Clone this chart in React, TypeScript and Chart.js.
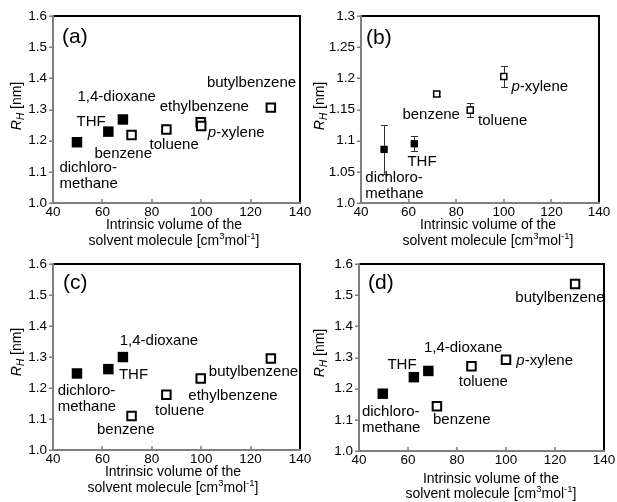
import React, { useEffect, useRef } from 'react';
import { Chart, registerables } from 'chart.js';

Chart.register(...registerables);

// ---------- data ----------
const solventNames = ['dichloromethane', 'THF', '1,4-dioxane', 'benzene', 'toluene', 'ethylbenzene', 'p-xylene', 'butylbenzene'];
const isFilled = [true, true, true, false, false, false, false, false];
const intrinsicVolume = [49.7, 62.4, 68.3, 71.8, 85.9, 99.8, 100.0, 128.2];

const rhA = [1.195, 1.229, 1.268, 1.218, 1.236, 1.259, 1.247, 1.306];
const rhB = [1.086, 1.095, null, 1.175, 1.149, null, 1.203, null];
const errB = [0.039, 0.012, null, 0.003, 0.011, null, 0.017, null];
const rhC = [1.247, 1.261, 1.300, 1.110, 1.178, 1.231, null, 1.295];
const rhD = [1.184, 1.237, 1.257, 1.144, 1.272, null, 1.293, 1.536];

const xTicks = [40, 60, 80, 100, 120, 140];
const yTicksWide = [1.0, 1.1, 1.2, 1.3, 1.4, 1.5, 1.6];
const yTicksNarrow = [1.0, 1.05, 1.1, 1.15, 1.2, 1.25, 1.3];

// ---------- label annotations (anchored in data units) ----------
const labelTextA = ['1,4-dioxane', 'THF', 'benzene', 'dichloro-\nmethane', 'toluene', 'ethylbenzene', 'p-xylene', 'butylbenzene'];
const labelXA = [49.9, 49.5, 56.8, 42.6, 79.1, 83.2, 102.7, 102.3];
const labelYA = [1.340, 1.260, 1.157, 1.112, 1.186, 1.308, 1.225, 1.385];

const labelTextB = ['benzene', 'toluene', 'p-xylene', 'THF', 'dichloro-\nmethane'];
const labelXB = [57.4, 89.2, 103.2, 59.5, 41.8];
const labelYB = [1.142, 1.132, 1.187, 1.0653, 1.0396];

const labelTextC = ['1,4-dioxane', 'THF', 'dichloro-\nmethane', 'benzene', 'toluene', 'ethylbenzene', 'butylbenzene'];
const labelXC = [67.0, 66.7, 41.9, 57.8, 81.3, 94.8, 103.1];
const labelYC = [1.351, 1.242, 1.192, 1.064, 1.126, 1.176, 1.253];

const labelTextD = ['butylbenzene', '1,4-dioxane', 'THF', 'p-xylene', 'toluene', 'dichloro-\nmethane', 'benzene'];
const labelXD = [103.8, 66.5, 51.6, 104.2, 80.7, 41.2, 70.2];
const labelYD = [1.491, 1.330, 1.277, 1.288, 1.221, 1.126, 1.099];

const FONT = '"Liberation Sans", Arial, Helvetica, sans-serif';

type Panel = {
  letter: string;
  rh: (number | null)[];
  err?: (number | null)[];
  labelText: string[];
  labelX: number[];
  labelY: number[];
  yTicks: number[];
  box: [number, number, number, number];
  area: [number, number, number, number];
  filledR: number;
  openR: number;
  openBorder: number;
  letterPos: [number, number];
  yTitlePos: [number, number];
  xTitle: [number, number, number];
};

const panels: Panel[] = [
  {
    letter: '(a)', rh: rhA, labelText: labelTextA, labelX: labelXA, labelY: labelYA, yTicks: yTicksWide,
    box: [0, 0, 320, 250], area: [53, 16, 300, 203], filledR: 7.4, openR: 6, openBorder: 2,
    letterPos: [62, 37], yTitlePos: [17, 106], xTitle: [174, 225, 241],
  },
  {
    letter: '(b)', rh: rhB, err: errB, labelText: labelTextB, labelX: labelXB, labelY: labelYB, yTicks: yTicksNarrow,
    box: [300, 0, 317, 250], area: [361, 16, 599, 203], filledR: 5.2, openR: 4.3, openBorder: 1.5,
    letterPos: [366, 38], yTitlePos: [320, 106], xTitle: [488, 225, 241],
  },
  {
    letter: '(c)', rh: rhC, labelText: labelTextC, labelX: labelXC, labelY: labelYC, yTicks: yTicksWide,
    box: [0, 250, 320, 252], area: [53, 262, 300, 450], filledR: 7.4, openR: 6, openBorder: 2,
    letterPos: [63, 283], yTitlePos: [17, 352], xTitle: [173, 472, 488],
  },
  {
    letter: '(d)', rh: rhD, labelText: labelTextD, labelX: labelXD, labelY: labelYD, yTicks: yTicksWide,
    box: [300, 250, 317, 252], area: [359, 263, 604, 451], filledR: 7.4, openR: 6, openBorder: 2,
    letterPos: [368, 283], yTitlePos: [320, 353], xTitle: [491, 479, 494],
  },
];

function drawLabel(ctx: CanvasRenderingContext2D, text: string, x: number, y: number) {
  const lines = text.split('\n');
  lines.forEach((line, i) => {
    const yy = y + i * 16;
    if (line.startsWith('p-')) {
      ctx.font = `italic 15px ${FONT}`;
      ctx.fillText('p', x, yy);
      const w = ctx.measureText('p').width;
      ctx.font = `15px ${FONT}`;
      ctx.fillText(line.slice(1), x + w, yy);
    } else {
      ctx.font = `15px ${FONT}`;
      ctx.fillText(line, x, yy);
    }
  });
}

function makeDeco(p: Panel) {
  const [x0, y0] = p.box;
  return {
    id: 'deco' + p.letter.replace(/[()]/g, ''),
    beforeDatasetsDraw(chart: any) {
      const { ctx, chartArea: a } = chart;
      const xs = chart.scales.x;
      const ys = chart.scales.y;
      ctx.save();
      ctx.strokeStyle = '#7f7f7f';
      ctx.lineWidth = 1.5;
      ctx.beginPath();
      p.yTicks.forEach((v) => {
        const yy = Math.round(ys.getPixelForValue(v)) + 0.25;
        ctx.moveTo(a.left - 4, yy);
        ctx.lineTo(a.left, yy);
      });
      xTicks.forEach((v) => {
        const xx = Math.round(xs.getPixelForValue(v));
        ctx.moveTo(xx, a.bottom);
        ctx.lineTo(xx, a.bottom - 4);
      });
      ctx.stroke();
      // frame
      ctx.lineWidth = 2;
      ctx.strokeStyle = '#000';
      ctx.beginPath();
      ctx.moveTo(a.left, a.top);
      ctx.lineTo(a.right, a.top);
      ctx.lineTo(a.right, a.bottom);
      ctx.stroke();
      ctx.strokeStyle = '#7f7f7f';
      ctx.beginPath();
      ctx.moveTo(a.left, a.top - 1);
      ctx.lineTo(a.left, a.bottom);
      ctx.lineTo(a.right + 1, a.bottom);
      ctx.stroke();
      // error bars
      if (p.err) {
        ctx.strokeStyle = '#333';
        ctx.lineWidth = 1;
        ctx.beginPath();
        p.err.forEach((e, i) => {
          const v = p.rh[i];
          if (e == null || v == null) return;
          const xx = Math.round(xs.getPixelForValue(intrinsicVolume[i])) + 0.5;
          const yTop = ys.getPixelForValue(v + e);
          const yBot = ys.getPixelForValue(v - e);
          ctx.moveTo(xx, yTop);
          ctx.lineTo(xx, yBot);
          ctx.moveTo(xx - 3.5, Math.round(yTop) + 0.5);
          ctx.lineTo(xx + 3.5, Math.round(yTop) + 0.5);
          ctx.moveTo(xx - 3.5, Math.round(yBot) + 0.5);
          ctx.lineTo(xx + 3.5, Math.round(yBot) + 0.5);
        });
        ctx.stroke();
      }
      ctx.restore();
    },
    afterDatasetsDraw(chart: any) {
      const { ctx } = chart;
      const xs = chart.scales.x;
      const ys = chart.scales.y;
      ctx.save();
      ctx.fillStyle = '#000';
      ctx.textAlign = 'left';
      ctx.textBaseline = 'middle';
      p.labelText.forEach((t, i) => {
        drawLabel(ctx, t, xs.getPixelForValue(p.labelX[i]), ys.getPixelForValue(p.labelY[i]));
      });
      // panel letter
      ctx.font = `21px ${FONT}`;
      ctx.fillText(p.letter, p.letterPos[0] - x0, p.letterPos[1] - y0);
      // x title
      ctx.textAlign = 'center';
      ctx.font = `14px ${FONT}`;
      ctx.fillText('Intrinsic volume of the', p.xTitle[0] - x0, p.xTitle[1] - y0);
      const parts: [string, boolean][] = [['solvent molecule [cm', false], ['3', true], ['mol', false], ['-1', true], [']', false]];
      let total = 0;
      const widths = parts.map(([s, sup]) => {
        ctx.font = sup ? `9.5px ${FONT}` : `14px ${FONT}`;
        const w = ctx.measureText(s).width;
        total += w;
        return w;
      });
      ctx.textAlign = 'left';
      let cx = p.xTitle[0] - x0 - total / 2;
      parts.forEach(([s, sup], i) => {
        ctx.font = sup ? `9.5px ${FONT}` : `14px ${FONT}`;
        ctx.fillText(s, cx, p.xTitle[2] - y0 - (sup ? 4.5 : 0));
        cx += widths[i];
      });
      // y title (rotated)
      ctx.save();
      ctx.translate(p.yTitlePos[0] - x0, p.yTitlePos[1] - y0);
      ctx.rotate(-Math.PI / 2);
      ctx.font = `italic 14px ${FONT}`;
      const wR = ctx.measureText('R').width;
      ctx.font = `italic 10px ${FONT}`;
      const wH = ctx.measureText('H').width;
      ctx.font = `14px ${FONT}`;
      const wRest = ctx.measureText(' [nm]').width;
      let tx = -(wR + wH + wRest) / 2;
      ctx.font = `italic 14px ${FONT}`;
      ctx.fillText('R', tx, 0);
      tx += wR;
      ctx.font = `italic 10px ${FONT}`;
      ctx.fillText('H', tx, 4);
      tx += wH;
      ctx.font = `14px ${FONT}`;
      ctx.fillText(' [nm]', tx, 0);
      ctx.restore();
      ctx.restore();
    },
  };
}

function PanelChart({ p }: { p: Panel }) {
  const ref = useRef<HTMLCanvasElement | null>(null);
  useEffect(() => {
    const canvas = ref.current;
    if (!canvas) return;
    const [x0, y0, w, h] = p.box;
    const [L, T, R, B] = p.area;
    const filledPts: { x: number; y: number }[] = [];
    const openPts: { x: number; y: number }[] = [];
    p.rh.forEach((v, i) => {
      if (v == null) return;
      (isFilled[i] ? filledPts : openPts).push({ x: intrinsicVolume[i], y: v });
    });
    const yMin = p.yTicks[0];
    const yMax = p.yTicks[p.yTicks.length - 1];
    const chart = new Chart(canvas, {
      type: 'scatter',
      data: {
        datasets: [
          {
            label: 'filled',
            data: filledPts,
            pointStyle: 'rect',
            pointRadius: p.filledR,
            backgroundColor: '#000',
            borderColor: '#000',
            borderWidth: 0,
          },
          {
            label: 'open',
            data: openPts,
            pointStyle: 'rect',
            pointRadius: p.openR,
            backgroundColor: '#fff',
            borderColor: '#000',
            borderWidth: p.openBorder,
          },
        ],
      },
      options: {
        animation: false,
        responsive: false,
        maintainAspectRatio: false,
        events: [],
        layout: { padding: { left: 0, top: T - y0, right: x0 + w - R, bottom: 0 } },
        plugins: { legend: { display: false }, tooltip: { enabled: false }, title: { display: false } },
        scales: {
          x: {
            type: 'linear',
            min: 40,
            max: 140,
            afterBuildTicks: (s: any) => { s.ticks = xTicks.map((v) => ({ value: v })); },
            afterFit: (s: any) => { s.height = y0 + h - B; },
            grid: { display: false, drawTicks: false },
            border: { display: false },
            ticks: {
              padding: 1,
              color: '#000',
              font: { family: FONT, size: 13.5 },
              maxRotation: 0,
              autoSkip: false,
              callback: (v: any) => String(v),
            },
          },
          y: {
            type: 'linear',
            min: yMin,
            max: yMax,
            afterBuildTicks: (s: any) => { s.ticks = p.yTicks.map((v) => ({ value: v })); },
            afterFit: (s: any) => { s.width = L - x0; },
            grid: { display: false, drawTicks: false },
            border: { display: false },
            ticks: {
              padding: 6,
              color: '#000',
              font: { family: FONT, size: 13.5 },
              autoSkip: false,
              callback: (v: any) => (Math.abs(v - 1) < 1e-9 ? '1.0' : String(+Number(v).toFixed(2))),
            },
          },
        },
      },
      plugins: [makeDeco(p)],
    } as any);
    return () => chart.destroy();
  }, [p]);
  const [x0, y0, w, h] = p.box;
  return (
    <canvas
      ref={ref}
      width={w}
      height={h}
      style={{ position: 'absolute', left: x0, top: y0, width: w, height: h }}
    />
  );
}

export default function App() {
  return (
    <div style={{ position: 'fixed', left: 0, top: 0, width: 617, height: 502, background: '#fff', overflow: 'hidden' }}>
      {panels.map((p) => (
        <PanelChart key={p.letter} p={p} />
      ))}
    </div>
  );
}
